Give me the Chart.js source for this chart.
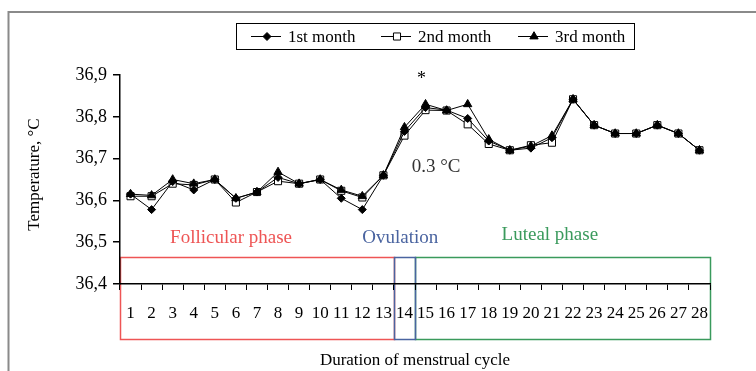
<!DOCTYPE html>
<html><head><meta charset="utf-8">
<script src="https://cdn.jsdelivr.net/npm/chart.js@4/dist/chart.umd.min.js"></script>
<style>html,body{margin:0;padding:0;background:#fff;}#wrap{width:756px;height:371px;position:relative;}</style>
</head><body><div id="wrap"><canvas id="c" width="756" height="371"></canvas></div>
<script>
// ---- data ----
const days = ['1','2','3','4','5','6','7','8','9','10','11','12','13','14','15','16','17','18','19','20','21','22','23','24','25','26','27','28'];
const month1 = [36.615,36.578,36.645,36.625,36.65,36.605,36.62,36.655,36.64,36.65,36.605,36.578,36.66,36.765,36.822,36.816,36.796,36.742,36.72,36.725,36.75,36.842,36.78,36.76,36.76,36.78,36.76,36.72];
const month2 = [36.61,36.61,36.64,36.637,36.65,36.595,36.62,36.646,36.64,36.65,36.623,36.607,36.66,36.755,36.816,36.815,36.782,36.735,36.72,36.732,36.738,36.842,36.78,36.76,36.76,36.78,36.76,36.72];
const month3 = [36.615,36.612,36.65,36.64,36.65,36.605,36.62,36.668,36.64,36.65,36.625,36.61,36.66,36.775,36.83,36.815,36.83,36.746,36.72,36.73,36.755,36.842,36.78,36.76,36.76,36.78,36.76,36.72];
const seriesNames = ['1st month','2nd month','3rd month'];
const yMin = 36.4, yMax = 36.9, yStep = 0.1;
const phaseNames = ['Follicular phase','Ovulation','Luteal phase'];
const phaseFirstDay = [1,14,15];
const phaseLastDay = [13,14,28];
const starText = '*';
const riseText = '0.3 °C';
const xTitle = 'Duration of menstrual cycle';
const yTitle = 'Temperature, °C';

// ---- styles ----
const SERIF = '"Liberation Serif","Times New Roman",serif';
const phaseColors = ['#ee5555','#4a64a0','#3a9a5c'];
const pointStyles = [
  {pointStyle:'rectRot', radius:4, bg:'#000'},
  {pointStyle:'rect', radius:5, bg:'#fff'},
  {pointStyle:'triangle', radius:4.8, bg:'#000'}
];
const seriesData = [month1, month2, month3];

function drawMarker(ctx, st, x, y){
  if (Chart.helpers && Chart.helpers.drawPoint){
    ctx.save();
    ctx.fillStyle = st.bg; ctx.strokeStyle = '#000'; ctx.lineWidth = 1;
    Chart.helpers.drawPoint(ctx, {pointStyle: st.pointStyle, radius: st.radius, rotation: 0, borderWidth: 1}, x, y);
    ctx.restore();
  }
}

const framePlugin = {
  id: 'frame',
  beforeDraw(chart){
    const ctx = chart.ctx;
    ctx.save();
    ctx.strokeStyle = '#8a8a8a'; ctx.lineWidth = 2;
    ctx.beginPath();
    ctx.moveTo(8.5, chart.height); ctx.lineTo(8.5, 12); ctx.lineTo(chart.width, 12);
    ctx.stroke();
    // phase boxes
    const xs = chart.scales.x, ys = chart.scales.y;
    const half = (xs.getPixelForValue(1) - xs.getPixelForValue(0)) / 2;
    const top = ys.getPixelForValue(36.465);
    const bottom = chart.chartArea.bottom + 55;
    const order = [0,2,1];
    order.forEach(i => {
      const l = xs.getPixelForValue(phaseFirstDay[i]-1) - half;
      const r = xs.getPixelForValue(phaseLastDay[i]-1) + half;
      ctx.strokeStyle = phaseColors[i]; ctx.lineWidth = 1.5;
      ctx.strokeRect(Math.round(l)+0.5, Math.round(top)+0.5, Math.round(r-l), Math.round(bottom-top));
    });
    ctx.restore();
  },
  afterDraw(chart){
    const ctx = chart.ctx;
    const xs = chart.scales.x, ys = chart.scales.y;
    ctx.save();
    // phase labels
    ctx.font = '19px ' + SERIF; ctx.textAlign = 'center'; ctx.textBaseline = 'middle';
    const labelAt = [5.77, 13.8, 20.9];
    const labelVal = [36.51, 36.51, 36.517];
    phaseNames.forEach((n,i) => {
      ctx.fillStyle = phaseColors[i];
      ctx.fillText(n, xs.getPixelForValue(labelAt[i]-1), ys.getPixelForValue(labelVal[i]));
    });
    // star and rise text
    ctx.fillStyle = '#000';
    ctx.font = '18px ' + SERIF; ctx.textBaseline = 'alphabetic';
    ctx.fillText(starText, xs.getPixelForValue(15-1) - 4, ys.getPixelForValue(36.9) + 9);
    ctx.fillStyle = '#333';
    ctx.font = '19px ' + SERIF; ctx.textBaseline = 'middle';
    ctx.fillText(riseText, xs.getPixelForValue(14.5), ys.getPixelForValue(36.679));
    // y title
    ctx.save();
    ctx.fillStyle = '#000';
    ctx.font = '17px ' + SERIF; ctx.textAlign = 'center'; ctx.textBaseline = 'middle';
    ctx.translate(35, ys.getPixelForValue(36.662));
    ctx.rotate(-Math.PI/2);
    ctx.fillText(yTitle, 0, 0);
    ctx.restore();
    // legend
    const bx = 236.5, by = 23.5, bw = 398, bh = 26;
    ctx.strokeStyle = '#000'; ctx.lineWidth = 1;
    ctx.strokeRect(bx, by, bw, bh);
    const lineStart = [251, 381, 518];
    const cy = by + bh/2;
    ctx.font = '17px ' + SERIF; ctx.textAlign = 'left'; ctx.fillStyle = '#000';
    seriesNames.forEach((n,i) => {
      ctx.beginPath(); ctx.moveTo(lineStart[i], cy); ctx.lineTo(lineStart[i]+30, cy); ctx.stroke();
      drawMarker(ctx, pointStyles[i], lineStart[i]+16, cy);
      ctx.fillStyle = '#000';
      ctx.fillText(n, lineStart[i]+37, cy + 1);
    });
    ctx.restore();
  }
};

new Chart(document.getElementById('c'), {
  type: 'line',
  data: {
    labels: days,
    datasets: seriesData.map((d,i) => ({
      label: seriesNames[i],
      data: d,
      borderColor: '#000',
      borderWidth: 1,
      backgroundColor: pointStyles[i].bg,
      pointBackgroundColor: pointStyles[i].bg,
      pointBorderColor: '#000',
      pointBorderWidth: 1,
      pointStyle: pointStyles[i].pointStyle,
      pointRadius: pointStyles[i].radius,
      tension: 0,
      fill: false,
      order: [2,3,1][i]
    }))
  },
  options: {
    responsive: false,
    animation: false,
    devicePixelRatio: 1,
    layout: { padding: { left: 0, right: 46, top: 75, bottom: 0 } },
    plugins: { legend: { display: false }, tooltip: { enabled: false } },
    scales: {
      x: {
        type: 'category',
        offset: true,
        grid: { offset: true, drawOnChartArea: false, drawTicks: true, tickLength: 6, color: '#000', lineWidth: 1 },
        border: { display: true, color: '#000', width: 1.5 },
        ticks: { color: '#000', font: { family: SERIF, size: 17 }, padding: 13, maxRotation: 0, autoSkip: false },
        title: { display: true, text: xTitle, color: '#000', font: { family: SERIF, size: 17 }, padding: { top: 0, bottom: 0 } },
        afterFit: s => { s.height = 87; }
      },
      y: {
        min: yMin, max: yMax,
        grid: { drawOnChartArea: false, drawTicks: true, tickLength: 7, color: '#000', lineWidth: 1.5 },
        border: { display: true, color: '#000', width: 1.5 },
        ticks: { stepSize: yStep, color: '#000', font: { family: SERIF, size: 18 }, padding: 6,
                 callback: v => Number(v).toFixed(1).replace('.', ',') },
        title: { display: false },
        afterFit: s => { s.width = 120; }
      }
    }
  },
  plugins: [framePlugin]
});
</script>
</body></html>
